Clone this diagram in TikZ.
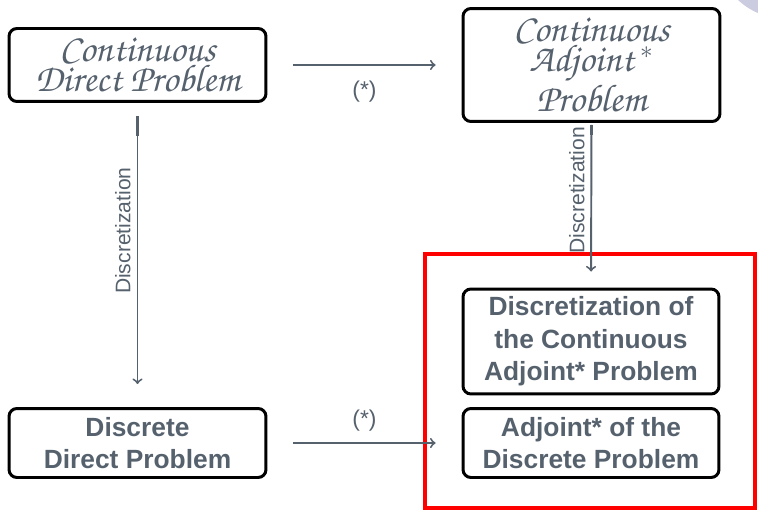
\documentclass[tikz,border=0pt]{standalone}
\usepackage[T1]{fontenc}
\usepackage{fontspec}
\setsansfont{Liberation Sans}

\definecolor{ink}{RGB}{86,97,110}
\definecolor{haze}{RGB}{204,204,224}
\newcommand{\chancery}{\usefont{T1}{pzc}{mb}{it}\lineskiplimit=-20pt}

\begin{document}
\begin{tikzpicture}[x=0.02cm, y=-0.02cm, >=to,
  box/.style={draw=black, line width=1.7pt, rounded corners=4.5pt, align=center, text=ink, inner sep=0pt},
  script/.style={box, font=\chancery\fontsize{22}{17}\selectfont},
  plain/.style={box, font=\sffamily\bfseries\fontsize{15}{18.5}\selectfont},
  conn/.style={->, draw=ink, line width=1.1pt},
  lab/.style={text=ink, font=\sffamily\fontsize{13}{15}\selectfont},
  side/.style={text=ink, font=\sffamily\fontsize{12}{14}\selectfont, rotate=90, anchor=south}]

\useasboundingbox (0,0) rectangle (758,510);
\fill[haze] (785,-50) circle[radius=1.372cm];

\node[script, minimum width=5.14cm, minimum height=1.46cm] (cdp) at (137.5,65) {Continuous\\Direct Problem};
\node[script, minimum width=5.14cm, minimum height=2.26cm] (cap) at (591.5,65) {Continuous\\Adjoint\,$^*$\\[5.5pt]Problem};
\node[plain, minimum width=5.12cm, minimum height=2.1cm] (dcap) at (591,341.5) {Discretization of\\the Continuous\\Adjoint* Problem};
\node[plain, minimum width=5.12cm, minimum height=1.38cm] (adp) at (591,443) {Adjoint* of the\\Discrete Problem};
\node[plain, minimum width=5.14cm, minimum height=1.38cm] (ddp) at (137.5,443) {Discrete\\Direct Problem};

\draw[red, line width=2.3pt] (425,254) rectangle (755,508);

\draw[conn, shorten <=0.52cm, shorten >=0.52cm] (cdp.east) -- node[lab, below=5pt]{(*)} (cap.west);
\draw[conn, shorten <=0.52cm, shorten >=0.52cm] (ddp.east) -- node[lab, above=3pt]{(*)} (adp.west);

\draw[conn, shorten <=0.26cm, shorten >=0.46cm] (cdp.south) -- node[side, pos=.42]{Discretization} (ddp.north);
\draw[conn, shorten <=0.04cm, shorten >=0.32cm] (cap.south) -- node[side, pos=.41]{Discretization} (dcap.north);
\draw[ink, line width=2.2pt, shorten <=0.26cm] (cdp.south) -- ++(0,33);
\draw[ink, line width=2.2pt, shorten <=0.04cm] (cap.south) -- ++(0,12);

\end{tikzpicture}
\end{document}
